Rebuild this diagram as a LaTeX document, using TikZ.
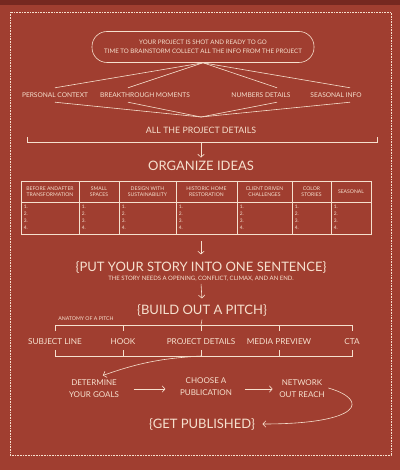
\documentclass[tikz,border=0pt]{standalone}
\usepackage{fontspec}
\setmainfont{Lato}
\usetikzlibrary{arrows.meta}

\definecolor{rust}{RGB}{160,62,48}
\definecolor{rustdark}{RGB}{118,40,32}
\definecolor{cream}{RGB}{246,224,206}

\begin{document}
\begin{tikzpicture}[x=1pt, y=-1pt, color=cream, line width=0.6pt,
  tinytxt/.style={font=\fontsize{4.8}{7}\selectfont, inner sep=1pt},
  headtxt/.style={font=\fontsize{5.1}{5.6}\selectfont, align=center, inner sep=1pt},
  smalltxt/.style={font=\fontsize{6.2}{9}\selectfont, align=center},
  lbl/.style={font=\fontsize{6.6}{8}\selectfont, inner sep=4.5pt},
  parttxt/.style={font=\fontsize{8.2}{9}\selectfont},
  steptxt/.style={font=\fontsize{8}{12}\selectfont, align=center},
  midtxt/.style={font=\fontsize{8.8}{10}\selectfont},
  bigtxt/.style={font=\fontsize{13}{15}\selectfont},
  arr/.style={-{Straight Barb[length=3pt,width=6.5pt]}}]

\useasboundingbox (0,0) rectangle (400,470);
\fill [rust] (0,0) rectangle (400,470);
\fill [rustdark] (0,0) rectangle (400,5);
\draw [dash pattern=on 0.8pt off 0.8pt] (10,12) rectangle (391,455);

% brainstorm
\node (shot) at (203,47) [draw, rounded corners=15pt, minimum width=222, minimum height=31, smalltxt]
  {YOUR PROJECT IS SHOT AND READY TO GO\\TIME TO BRAINSTORM COLLECT ALL THE INFO FROM THE PROJECT};

\node (ctx) at (55,95) [lbl] {PERSONAL CONTEXT};
\node (brk) at (145,95) [lbl] {BREAKTHROUGH MOMENTS};
\node (num) at (261,95) [lbl] {NUMBERS DETAILS};
\node (sea) at (336,95) [lbl] {SEASONAL INFO};

\coordinate (merge) at (201,117);
\foreach \n/\dx in {ctx/0, brk/-17, num/16, sea/14} {
  \draw (shot.south) -- ([xshift=\dx pt]\n.north);
  \draw ([xshift=\dx pt]\n.south) -- (merge);
}

\node (all) at (201,130) [midtxt] {ALL THE PROJECT DETAILS};
\coordinate (allbr) at (201,142);
\draw (27,137) -- (27,142) -- (377,142) -- (377,137);

% organize
\node (org) at (201,166) [bigtxt] {ORGANIZE IDEAS};
\draw [arr] (allbr) -- (org.north);

\draw (21,181) rectangle (371,234);
\draw (21,202) -- (371,202);
\foreach \x in {79,119,176,237,292,331}
  \draw (\x,181) -- (\x,234);
\foreach \xa/\xb/\head [count=\i] in {21/79/{BEFORE ANDAFTER\\TRANSFORMATION}, 79/119/{SMALL\\SPACES},
    119/176/{DESIGN WITH\\SUSTAINABILITY}, 176/237/{HISTORIC HOME\\RESTORATION},
    237/292/{CLIENT DRIVEN\\CHALLENGES}, 292/331/{COLOR\\STORIES}, 331/371/{SEASONAL}} {
  \node (head\i) at ({(\xa+\xb)/2},191.5) [headtxt] {\head};
  \node (body\i) at (\xa+1.5,204) [tinytxt, anchor=north west, align=left] {1.\\2.\\3.\\4.};
}
\coordinate (tabbot) at (201,234);

% story
\node (story) at (201,267) [bigtxt] {\{PUT YOUR STORY INTO ONE SENTENCE\}};
\node (storysub) at (201,279) [tinytxt, font=\fontsize{6}{7}\selectfont] {THE STORY NEEDS A OPENING, CONFLICT, CLIMAX, AND AN END.};
\draw [arr, shorten <=7pt, shorten >=3pt] (tabbot) -- (story.north);

% pitch
\node (pitch) at (202,310) [bigtxt] {\{BUILD OUT A PITCH\}};
\draw [arr, shorten <=1pt, shorten >=2pt] (storysub.south) -- (pitch.north);
\node (anat) at (86,319) [tinytxt, font=\fontsize{5.2}{6}\selectfont] {ANATOMY OF A PITCH};

\node (subj) at (55,342) [parttxt] {SUBJECT LINE};
\node (hook) at (123,342) [parttxt] {HOOK};
\node (pdet) at (201,342) [parttxt] {PROJECT DETAILS};
\node (media) at (279,342) [parttxt] {MEDIA PREVIEW};
\node (cta) at (352,342) [parttxt] {CTA};

\coordinate (ptop) at (201,325);
\coordinate (pbot) at (201,356);
\draw (pitch.south) -- (ptop);
\draw (subj |- 0,331) -- (subj |- 0,325) -- (cta |- 0,325) -- (cta |- 0,331);
\draw (subj |- 0,350) -- (subj |- 0,356) -- (cta |- 0,356) -- (cta |- 0,350);
\foreach \n in {hook,pdet,media} {
  \draw (\n |- 0,325) -- (\n |- 0,331);
  \draw (\n |- 0,356) -- (\n |- 0,350);
}

% steps
\node (det) at (94,389) [steptxt] {DETERMINE\\YOUR GOALS};
\node (pub) at (206,387) [steptxt] {CHOOSE A\\PUBLICATION};
\node (net) at (302,389) [steptxt] {NETWORK\\OUT REACH};
\node (gp) at (202,424) [bigtxt] {\{GET PUBLISHED\}};

\draw [arr, bend right=8, shorten >=3pt] (pbot) to ([xshift=6pt]det.north);
\draw [arr, shorten <=11pt, shorten >=11pt] (det.east) -- (det.east -| pub.west);
\draw [arr, shorten <=9pt, shorten >=3pt] (pub.east |- det.east) -- (det.east -| net.west);
\draw [arr, shorten >=4pt] ([yshift=1pt]net.east) .. controls (370,400) and (362,424) .. (gp.east);

\end{tikzpicture}
\end{document}
